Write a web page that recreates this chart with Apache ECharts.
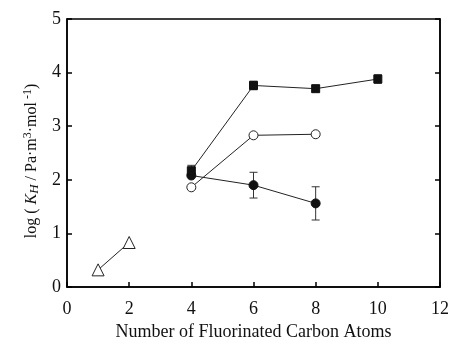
<!DOCTYPE html>
<html><head><meta charset="utf-8">
<script src="https://cdn.jsdelivr.net/npm/echarts@6/dist/echarts.min.js"></script>
<style>html,body{margin:0;padding:0;background:#fff}#c{width:452px;height:348px}</style>
</head><body><div id="c"></div>
<script>
const xTicks = [0, 2, 4, 6, 8, 10, 12];
const yTicks = [0, 1, 2, 3, 4, 5];
const triX = [1, 2];
const triY = [0.32, 0.83];
const sqX = [4, 6, 8, 10];
const sqY = [2.17, 3.76, 3.70, 3.88];
const sqErr = [0.1, 0.08, 0.06, 0.08];
const ocX = [4, 6, 8];
const ocY = [1.86, 2.83, 2.85];
const fcX = [4, 6, 8];
const fcY = [2.08, 1.90, 1.56];
const fcErr = [0, 0.24, 0.31];

const font = 'Liberation Serif, Times New Roman, serif';
const zip = (a, b) => a.map((v, i) => [v, b[i]]);
const errData = (xs, ys, es) => xs.map((x, i) => [x, ys[i], es[i]]).filter(d => d[2] > 0);

function errRender(params, api) {
  const x = api.value(0), y = api.value(1), e = api.value(2);
  const hi = api.coord([x, y + e]);
  const lo = api.coord([x, y - e]);
  const w = 4;
  const st = { stroke: '#333', lineWidth: 1 };
  return { type: 'group', children: [
    { type: 'line', shape: { x1: hi[0], y1: hi[1], x2: lo[0], y2: lo[1] }, style: st },
    { type: 'line', shape: { x1: hi[0] - w, y1: hi[1], x2: hi[0] + w, y2: hi[1] }, style: st },
    { type: 'line', shape: { x1: lo[0] - w, y1: lo[1], x2: lo[0] + w, y2: lo[1] }, style: st }
  ]};
}

const chart = echarts.init(document.getElementById('c'), null, { renderer: 'canvas' });
const axisLine = { show: true, lineStyle: { color: '#000', width: 1.5 } };
const tick = { show: true, inside: true, length: 5, lineStyle: { color: '#000', width: 1.5 } };
const lbl = { fontFamily: font, fontSize: 18, color: '#111' };
chart.setOption({
  animation: false,
  grid: { left: 67, right: 12, top: 19, bottom: 61, show: true, borderColor: '#000', borderWidth: 1.5, containLabel: false },
  xAxis: [{
    type: 'value', min: 0, max: 12, interval: 2,
    axisLine, axisTick: tick, splitLine: { show: false },
    axisLabel: Object.assign({ margin: 13 }, lbl),
    name: 'Number of Fluorinated Carbon Atoms', nameLocation: 'middle', nameGap: 35,
    nameTextStyle: { fontFamily: font, fontSize: 18, color: '#111' }
  }],
  yAxis: [{
    type: 'value', min: 0, max: 5, interval: 1,
    axisLine, axisTick: tick, splitLine: { show: false },
    axisLabel: Object.assign({ margin: 6 }, lbl),
    name: '{a|log ( }{i|K}{s|H}{a| / Pa·m}{p|3}{a|·mol}{p| -1}{a|)}', nameLocation: 'middle', nameGap: 24,
    nameTextStyle: { fontFamily: font, fontSize: 16, color: '#111', padding: [0, 16, 0, 0],
      rich: {
        a: { fontFamily: font, fontSize: 16, color: '#111' },
        i: { fontFamily: font, fontSize: 16, fontStyle: 'italic', color: '#111' },
        s: { fontFamily: font, fontSize: 13, fontStyle: 'italic', color: '#111', padding: [6, 0, 0, 0] },
        p: { fontFamily: font, fontSize: 12, color: '#111', padding: [0, 0, 8, 0] }
      } }
  }, {
    type: 'value', min: 0, max: 5, interval: 1, position: 'right',
    axisLine, axisTick: tick, splitLine: { show: false }, axisLabel: { show: false }
  }],
  series: [
    { type: 'line', data: zip(triX, triY), symbol: 'triangle', symbolSize: 12,
      lineStyle: { color: '#222', width: 1 }, itemStyle: { color: '#fff', borderColor: '#222', borderWidth: 1 } },
    { type: 'custom', renderItem: errRender, data: errData(sqX, sqY, sqErr), z: 1 },
    { type: 'custom', renderItem: errRender, data: errData(fcX, fcY, fcErr), z: 1 },
    { type: 'line', data: zip(fcX, fcY), symbol: 'circle', symbolSize: 9, z: 3,
      lineStyle: { color: '#222', width: 1 }, itemStyle: { color: '#111', borderColor: '#111', borderWidth: 1 } },
    { type: 'line', data: zip(ocX, ocY), symbol: 'circle', symbolSize: 9, z: 3,
      lineStyle: { color: '#222', width: 1 }, itemStyle: { color: '#fff', borderColor: '#222', borderWidth: 1 } },
    { type: 'line', data: zip(sqX, sqY), symbol: 'rect', symbolSize: 8, z: 4,
      lineStyle: { color: '#222', width: 1 }, itemStyle: { color: '#111', borderColor: '#111', borderWidth: 1 } }
  ]
});
</script></body></html>
